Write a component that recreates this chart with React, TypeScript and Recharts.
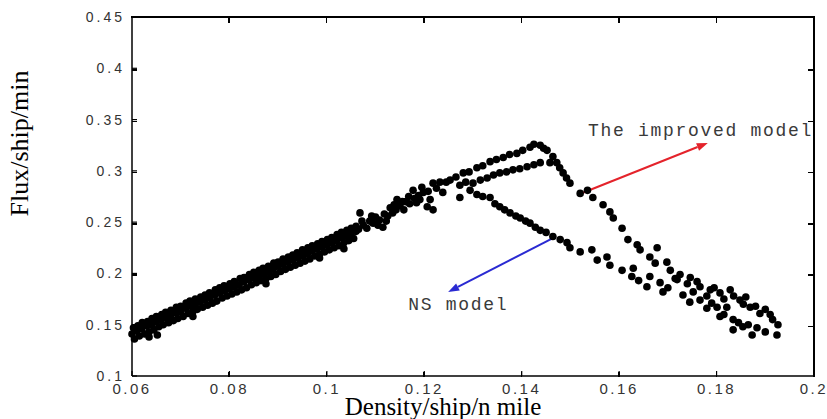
import { ReferenceDot, ReferenceLine, Scatter, ScatterChart, XAxis, YAxis } from "recharts";

// axis ticks
const xTicks = [0.06, 0.08, 0.1, 0.12, 0.14, 0.16, 0.18, 0.2];
const yTicks = [0.1, 0.15, 0.2, 0.25, 0.3, 0.35, 0.4, 0.45];

// shared free-flow branch (density, flux)
const freeFlow: [number, number][] = [
  [0.0603, 0.147], [0.0612, 0.149], [0.0621, 0.152], [0.0632, 0.153], [0.0641, 0.156], [0.065, 0.158],
  [0.0661, 0.16], [0.0669, 0.162], [0.068, 0.164], [0.0691, 0.167], [0.07, 0.168], [0.0711, 0.171],
  [0.0719, 0.173], [0.073, 0.175], [0.0741, 0.177], [0.075, 0.179], [0.0759, 0.181], [0.0771, 0.184],
  [0.078, 0.186], [0.0789, 0.188], [0.0801, 0.19], [0.081, 0.192], [0.0822, 0.195], [0.083, 0.196],
  [0.0841, 0.199], [0.085, 0.201], [0.0861, 0.203], [0.0869, 0.205], [0.088, 0.207], [0.0891, 0.21],
  [0.09, 0.211], [0.091, 0.214], [0.0921, 0.216], [0.093, 0.218], [0.0939, 0.22], [0.095, 0.223],
  [0.0961, 0.225], [0.097, 0.227], [0.0981, 0.229], [0.099, 0.231], [0.1001, 0.233], [0.101, 0.235],
  [0.1021, 0.238], [0.103, 0.24], [0.1041, 0.242], [0.105, 0.244], [0.106, 0.246],
  [0.06, 0.141], [0.061, 0.144], [0.062, 0.146], [0.063, 0.149], [0.064, 0.15], [0.065, 0.153],
  [0.066, 0.155], [0.067, 0.157], [0.068, 0.159], [0.069, 0.162], [0.07, 0.163], [0.071, 0.166],
  [0.072, 0.168], [0.073, 0.17], [0.074, 0.172], [0.075, 0.174], [0.076, 0.176], [0.077, 0.179],
  [0.078, 0.181], [0.079, 0.183], [0.08, 0.185], [0.081, 0.187], [0.082, 0.189], [0.083, 0.192],
  [0.084, 0.194], [0.085, 0.196], [0.086, 0.198], [0.087, 0.2], [0.088, 0.202], [0.089, 0.204],
  [0.09, 0.207], [0.091, 0.209], [0.092, 0.211], [0.093, 0.213], [0.094, 0.215], [0.095, 0.217],
  [0.096, 0.219], [0.097, 0.222], [0.098, 0.224], [0.099, 0.226], [0.1, 0.228], [0.101, 0.23],
  [0.102, 0.232], [0.103, 0.235], [0.104, 0.237], [0.105, 0.239], [0.106, 0.241],
  [0.0605, 0.136], [0.0615, 0.139], [0.0626, 0.141], [0.0635, 0.143], [0.0645, 0.145], [0.0655, 0.148],
  [0.0664, 0.15], [0.0675, 0.152], [0.0685, 0.154], [0.0694, 0.156], [0.0705, 0.158], [0.0715, 0.161],
  [0.0725, 0.163], [0.0734, 0.165], [0.0745, 0.167], [0.0755, 0.169], [0.0765, 0.171], [0.0774, 0.173],
  [0.0785, 0.176], [0.0795, 0.178], [0.0805, 0.18], [0.0815, 0.182], [0.0825, 0.184], [0.0835, 0.186],
  [0.0845, 0.189], [0.0855, 0.191], [0.0865, 0.193], [0.0875, 0.195], [0.0885, 0.197], [0.0895, 0.199],
  [0.0905, 0.202], [0.0915, 0.204], [0.0925, 0.206], [0.0935, 0.208], [0.0945, 0.21], [0.0955, 0.212],
  [0.0965, 0.214], [0.0975, 0.217], [0.0985, 0.219], [0.0995, 0.221], [0.1005, 0.223], [0.1015, 0.225],
  [0.1025, 0.227], [0.1035, 0.23], [0.1045, 0.232], [0.1055, 0.234],
  [0.0652, 0.14], [0.0635, 0.138], [0.0725, 0.158], [0.0875, 0.19], [0.0985, 0.215], [0.1035, 0.224],
  [0.1065, 0.243], [0.1068, 0.259], [0.1075, 0.247], [0.1082, 0.244], [0.1088, 0.251], [0.1095, 0.249],
  [0.11, 0.255], [0.1108, 0.252], [0.1115, 0.245], [0.1118, 0.258], [0.1125, 0.256], [0.113, 0.264],
  [0.1135, 0.259], [0.1142, 0.262], [0.1144, 0.272], [0.115, 0.266], [0.1158, 0.262], [0.1162, 0.27],
  [0.117, 0.268], [0.1177, 0.281], [0.118, 0.273], [0.1188, 0.276], [0.1191, 0.272], [0.1198, 0.279],
  [0.1206, 0.265], [0.1208, 0.28], [0.1218, 0.262], [0.1218, 0.288], [0.1225, 0.283],
  [0.1072, 0.251], [0.1092, 0.256], [0.1105, 0.247], [0.1122, 0.251], [0.1138, 0.267], [0.1155, 0.27],
  [0.1168, 0.275], [0.1184, 0.269], [0.1195, 0.284], [0.1212, 0.272], [0.1232, 0.289], [0.1238, 0.279],
];

// improved model, congested part
const improvedModel: [number, number][] = [
  [0.1253, 0.291], [0.1265, 0.294], [0.128, 0.298], [0.1292, 0.299], [0.1308, 0.303], [0.132, 0.305],
  [0.1335, 0.309], [0.1348, 0.311], [0.1362, 0.313], [0.1375, 0.316], [0.139, 0.317], [0.1402, 0.32],
  [0.1417, 0.323], [0.1425, 0.326], [0.1438, 0.325], [0.1445, 0.322],
  [0.1285, 0.289], [0.13, 0.288], [0.1315, 0.291], [0.1329, 0.293], [0.1342, 0.296], [0.1355, 0.298],
  [0.1369, 0.299], [0.1382, 0.301], [0.1396, 0.302], [0.1411, 0.304], [0.1425, 0.306], [0.1438, 0.308],
  [0.1458, 0.308],
  [0.1452, 0.32], [0.1464, 0.314], [0.1472, 0.308], [0.1478, 0.303], [0.1485, 0.298], [0.1492, 0.293],
  [0.1499, 0.288], [0.152, 0.278], [0.1535, 0.281], [0.1546, 0.274], [0.1567, 0.267], [0.1581, 0.26],
  [0.1588, 0.254], [0.1606, 0.244], [0.1618, 0.233], [0.1637, 0.228], [0.1643, 0.223], [0.1663, 0.216],
  [0.1678, 0.225], [0.1674, 0.21], [0.1698, 0.211], [0.1705, 0.203], [0.1725, 0.199], [0.1746, 0.196],
  [0.1766, 0.187], [0.1787, 0.184], [0.1807, 0.181], [0.1828, 0.184], [0.1848, 0.174], [0.1869, 0.167],
  [0.1889, 0.161], [0.191, 0.16], [0.1926, 0.15], [0.1924, 0.14],
  [0.1715, 0.195], [0.174, 0.19], [0.176, 0.192], [0.178, 0.178], [0.1795, 0.186], [0.1815, 0.175],
  [0.1835, 0.178], [0.1855, 0.17], [0.186, 0.177], [0.188, 0.168], [0.19, 0.165], [0.1915, 0.155],
];

// NS model, congested part
const nsModel: [number, number][] = [
  [0.1245, 0.289], [0.1273, 0.286], [0.1294, 0.281], [0.1308, 0.277], [0.1273, 0.274], [0.132, 0.275],
  [0.1335, 0.274], [0.1345, 0.268], [0.1355, 0.265], [0.1365, 0.262], [0.1376, 0.259], [0.1388, 0.256],
  [0.1397, 0.254], [0.1408, 0.251], [0.1417, 0.249], [0.1428, 0.245], [0.1438, 0.242], [0.145, 0.24],
  [0.1464, 0.236], [0.1479, 0.233], [0.1493, 0.23], [0.1499, 0.225], [0.152, 0.221], [0.1544, 0.223],
  [0.1555, 0.213], [0.1575, 0.216], [0.1581, 0.208], [0.1606, 0.203], [0.1626, 0.197], [0.1629, 0.205],
  [0.1657, 0.187], [0.1663, 0.197], [0.1684, 0.191], [0.169, 0.182], [0.1719, 0.194], [0.1731, 0.179],
  [0.1752, 0.182], [0.1766, 0.174], [0.178, 0.166], [0.1801, 0.167], [0.1807, 0.158], [0.1821, 0.167],
  [0.1834, 0.155], [0.1834, 0.145], [0.1854, 0.148], [0.1873, 0.14], [0.1883, 0.147],
  [0.164, 0.193], [0.17, 0.186], [0.1745, 0.172], [0.179, 0.171], [0.1815, 0.16], [0.1845, 0.152],
  [0.1865, 0.15], [0.19, 0.143],
];

// annotation arrows: [tail, head]
const redArrow = [{ x: 0.1514, y: 0.2765 }, { x: 0.1782, y: 0.3272 }];
const blueArrow = [{ x: 0.1464, y: 0.2345 }, { x: 0.1249, y: 0.1819 }];

const toPoints = (arr: [number, number][]) => arr.map(([x, y]) => ({ x, y }));

// chart geometry
const W = 827;
const H = 419;
const margin = { top: 17, right: 13, bottom: 13, left: 72 };
const yAxisWidth = 60;
const xAxisHeight = 30;
const box = {
  left: margin.left + yAxisWidth,
  top: margin.top,
  right: W - margin.right,
  bottom: H - margin.bottom - xAxisHeight,
};

const tickStyle = { fill: "#333", fontSize: 14, fontFamily: "Liberation Sans, Arial, sans-serif", letterSpacing: 3 };
const xTickStyle = { ...tickStyle, fontSize: 15, letterSpacing: 2.5 };
const axisLine = { stroke: "#000", strokeWidth: 1.5 };
const tickLine = { stroke: "#000", strokeWidth: 1.2 };

const Dot = (p: any) => <circle cx={p.cx} cy={p.cy} r={3.8} fill="#000" />;

function Arrow(props: any) {
  const { x1, y1, x2, y2, stroke } = props;
  const a = Math.atan2(y2 - y1, x2 - x1);
  const len = 11;
  const half = 4;
  const bx = x2 - len * Math.cos(a);
  const by = y2 - len * Math.sin(a);
  const px = -Math.sin(a) * half;
  const py = Math.cos(a) * half;
  return (
    <g>
      <line x1={x1} y1={y1} x2={bx} y2={by} stroke={stroke} strokeWidth={2} />
      <polygon points={`${x2},${y2} ${bx + px},${by + py} ${bx - px},${by - py}`} fill={stroke} />
    </g>
  );
}

// top and right edges of the box plus inward ticks, as plain HTML on top of the chart
function Frame() {
  const bw = box.right - box.left;
  const bh = box.bottom - box.top;
  const fx = (v: number) => ((v - xTicks[0]) / (xTicks[xTicks.length - 1] - xTicks[0])) * bw;
  const fy = (v: number) => bh - ((v - yTicks[0]) / (yTicks[yTicks.length - 1] - yTicks[0])) * bh;
  const tick = { position: "absolute" as const, background: "#000" };
  return (
    <div
      style={{
        position: "absolute",
        left: box.left - 1,
        top: box.top - 1,
        width: bw,
        height: bh,
        borderTop: "2px solid #000",
        borderRight: "2px solid #000",
        pointerEvents: "none",
        zIndex: 5,
      }}
    >
      {xTicks.slice(1, -1).map((t) => (
        <div key={`x${t}`}>
          <div style={{ ...tick, left: fx(t), top: 0, width: 1.5, height: 5 }} />
          <div style={{ ...tick, left: fx(t), top: bh - 5, width: 1.5, height: 5 }} />
        </div>
      ))}
      {yTicks.slice(1, -1).map((t) => (
        <div key={`y${t}`}>
          <div style={{ ...tick, left: 1, top: fy(t), width: 5, height: 1.5 }} />
          <div style={{ ...tick, left: bw - 5, top: fy(t), width: 5, height: 1.5 }} />
        </div>
      ))}
    </div>
  );
}

const noteLabel = (text: string) => (props: any) => {
  const { x, y } = props.viewBox;
  return (
    <text x={x} y={y} dominantBaseline="central" fill="#3a3a3a" fontSize={18} letterSpacing={1.7}
      fontFamily="Liberation Mono, Courier New, monospace">
      {text}
    </text>
  );
};

const xTitle = (props: any) => {
  const { x, y, width } = props.viewBox;
  return (
    <text x={x + width / 2 - 30} y={y + 39} textAnchor="middle" fill="#000" fontSize={25}
      fontFamily="Liberation Serif, Times New Roman, serif">
      Density/ship/n mile
    </text>
  );
};

const yTitle = (props: any) => {
  const { x, y } = props.viewBox;
  const cx = x - 44;
  const cy = y + 126.5;
  return (
    <text x={cx} y={cy} transform={`rotate(-90, ${cx}, ${cy})`} textAnchor="middle" fill="#000" fontSize={26}
      fontFamily="Liberation Serif, Times New Roman, serif">
      Flux/ship/min
    </text>
  );
};

export default function App() {
  return (
    <div style={{ position: "absolute", left: 0, top: 0, width: W, height: H, background: "#fff" }}>
      <ScatterChart width={W} height={H} margin={margin}>
        <XAxis type="number" dataKey="x" domain={[0.06, 0.2]} ticks={xTicks} height={xAxisHeight}
          tickSize={-5} tickMargin={12} tick={xTickStyle} axisLine={axisLine} tickLine={tickLine} label={xTitle} />
        <YAxis type="number" dataKey="y" domain={[0.1, 0.45]} ticks={yTicks} width={yAxisWidth}
          tickSize={-5} tickMargin={12} tick={tickStyle} axisLine={axisLine} tickLine={tickLine} label={yTitle} />
        <Scatter data={toPoints(freeFlow)} shape={Dot} isAnimationActive={false} />
        <Scatter data={toPoints(improvedModel)} shape={Dot} isAnimationActive={false} />
        <Scatter data={toPoints(nsModel)} shape={Dot} isAnimationActive={false} />
        <ReferenceLine segment={redArrow} stroke="#e4232b" shape={Arrow} />
        <ReferenceLine segment={blueArrow} stroke="#2a2ad2" shape={Arrow} />
        <ReferenceDot x={0.1536} y={0.339} r={0} fill="none" stroke="none" label={noteLabel("The improved model")} />
        <ReferenceDot x={0.1167} y={0.1692} r={0} fill="none" stroke="none" label={noteLabel("NS model")} />
      </ScatterChart>
      <Frame />
    </div>
  );
}
